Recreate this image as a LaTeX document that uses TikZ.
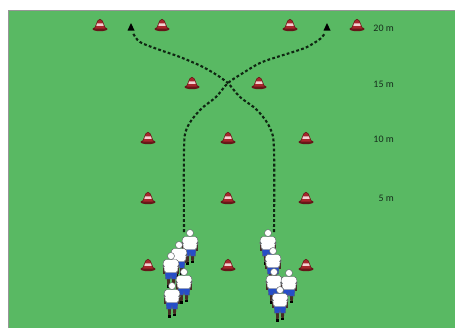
\documentclass[tikz,border=0pt]{standalone}
\usepackage{fontspec}
\setmainfont{Carlito}
\definecolor{field}{RGB}{89,185,99}
\definecolor{frameline}{RGB}{150,150,150}
\definecolor{conered}{RGB}{168,38,44}
\definecolor{conedark}{RGB}{100,22,24}
\definecolor{coneband}{RGB}{242,210,210}
\definecolor{runline}{RGB}{15,38,18}
\definecolor{labeltext}{RGB}{22,45,28}
\definecolor{shortsblue}{RGB}{38,78,200}
\definecolor{skin}{RGB}{70,45,35}
\definecolor{kitline}{RGB}{95,100,105}
\begin{document}
\begin{tikzpicture}[x=0.03cm,y=-0.03cm,
  run/.style={draw=runline,line width=1.8pt,dash pattern=on 2.4pt off 1.9pt},
  marker/.style={fill=black},
  distlabel/.style={anchor=east,text=labeltext,font=\fontsize{8.5}{9}\selectfont,inner sep=0pt},
  cone/.pic={
    \fill[conedark] (0,4) ellipse [x radius=7.5, y radius=2.2];
    \filldraw[fill=conered,draw=conedark,line width=0.45pt]
      (-5.6,4) -- (-2.3,-4.2) .. controls (-1.5,-6.4) and (1.5,-6.4) .. (2.3,-4.2) -- (5.6,4) -- cycle;
    \fill[coneband] (-3,-1.7) -- (3,-1.7) -- (3.6,0.8) -- (-3.6,0.8) -- cycle;
  },
  finish/.pic={
    \path[marker] (-3.5,3.5) -- (0,-4) -- (3.5,3.5) -- cycle;
  },
  player/.pic={
    % legs and boots
    \fill[skin] (-4.2,20) -- (-1,20) -- (-1.3,29.5) -- (-3.8,29.5) -- cycle;
    \fill[skin] (1,20) -- (4.2,20) -- (3.9,28.5) -- (1.3,28.5) -- cycle;
    \fill[black] (-4.3,29.3) rectangle (-0.9,31.5);
    \fill[black] (0.9,28.3) rectangle (4.3,30.3);
    % arms
    \fill[skin] (-8.3,9) rectangle (-6.3,17.5);
    \fill[skin] (6.3,9) rectangle (8.3,17.5);
    % shorts
    \filldraw[fill=shortsblue,draw=kitline,line width=0.3pt]
      (-6,14.5) -- (6,14.5) -- (5.6,23) -- (0.4,23) -- (0,20) -- (-0.4,23) -- (-5.6,23) -- cycle;
    % shirt
    \filldraw[fill=white,draw=kitline,line width=0.4pt,rounded corners=1.5pt]
      (-8.3,10) -- (-7,3.5) -- (7,3.5) -- (8.3,10) -- (6.8,10.5) -- (6.8,16.5) -- (-6.8,16.5) -- (-6.8,10.5) -- cycle;
    % head
    \filldraw[fill=white,draw=kitline,line width=0.4pt] (0,0) circle (3.5);
  }]
\useasboundingbox (0,0) rectangle (455,328);
% page and pitch
\fill[white] (0,0) rectangle (455,328);
\fill[field] (9,11) rectangle (455,328);
\draw[frameline,line width=1.1pt] (8.5,328) -- (8.5,10.5) -- (455,10.5);

% cones, row by row
\foreach \x in {100,162,290,357} \pic at (\x,25) {cone};
\foreach \x in {192,259} \pic at (\x,83) {cone};
\foreach \y in {138,198,265} {
  \foreach \x in {148,228,306} \pic at (\x,\y) {cone};
}

% finishing markers
\pic at (131,27) {finish};
\pic at (327,27) {finish};
\coordinate (endL) at (133,33);
\coordinate (endR) at (325,33);
\coordinate (startL) at (184,232);
\coordinate (startR) at (274,232);

% running lines
\draw[run] plot[smooth,tension=0.55] coordinates {(startL) (184,150) (187,128) (200,110) (216,97) (228,83) (243,73) (260,63) (277,57) (293,52) (307,47) (320,39) (endR)};
\draw[run] plot[smooth,tension=0.55] coordinates {(startR) (274,150) (270,128) (257,110) (240,97) (228,83) (220,77) (203,67) (180,57) (160,50) (140,42) (endL)};

% distance labels
\node[distlabel] (d20) at (394,28) {20 m};
\node[distlabel] (d15) at (394,84) {15 m};
\node[distlabel] (d10) at (394,139) {10 m};
\node[distlabel] (d5)  at (394,198) {5 m};

% two queues of players
\foreach \x/\y in {190/233,179/245,171/256,184/272,172/286} \pic at (\x,\y) {player};
\foreach \x/\y in {268/233,273/251,274/272,289/273,280/290} \pic at (\x,\y) {player};
\end{tikzpicture}
\end{document}
